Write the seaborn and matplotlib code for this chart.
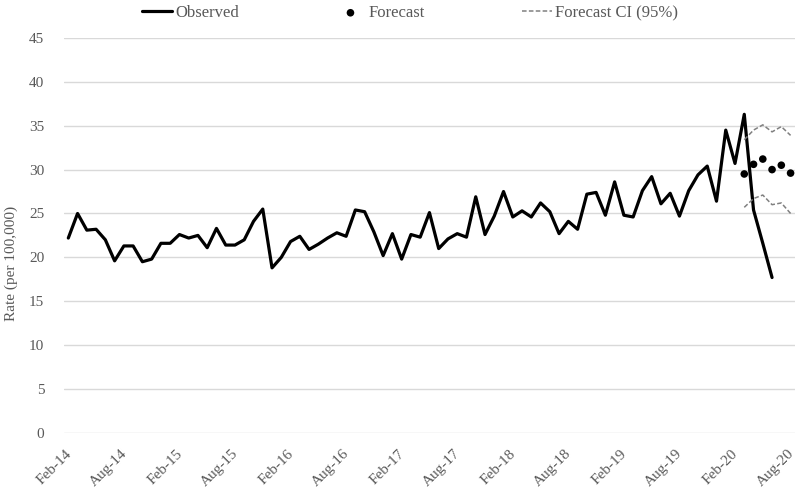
import numpy as np
import pandas as pd
import seaborn as sns
import matplotlib.pyplot as plt

months = pd.date_range('2014-02-01', '2020-08-01', freq='MS')

observed = [22.2, 25.0, 23.1, 23.2, 22.0, 19.6, 21.3, 21.3, 19.5, 19.8,
            21.6, 21.6, 22.6, 22.2, 22.5, 21.1, 23.3, 21.4, 21.4, 22.0,
            24.1, 25.5, 18.8, 20.0, 21.8, 22.4, 20.9, 21.5, 22.2, 22.8,
            22.4, 25.4, 25.2, 22.9, 20.2, 22.7, 19.8, 22.6, 22.3, 25.1,
            21.0, 22.1, 22.7, 22.3, 26.9, 22.6, 24.7, 27.5, 24.6, 25.3,
            24.6, 26.2, 25.2, 22.7, 24.1, 23.2, 27.2, 27.4, 24.8, 28.6,
            24.8, 24.6, 27.6, 29.2, 26.1, 27.3, 24.7, 27.6, 29.4, 30.4,
            26.4, 34.5, 30.7, 36.3, 25.4, 21.6, 17.7]

forecast_months = ['Mar-20', 'Apr-20', 'May-20', 'Jun-20', 'Jul-20', 'Aug-20']
forecast = [29.5, 30.6, 31.2, 30.0, 30.5, 29.6]
ci_upper = [33.4, 34.5, 35.1, 34.3, 34.9, 33.9]
ci_lower = [25.7, 26.7, 27.1, 26.0, 26.2, 25.0]

tick_labels = ['Feb-14', 'Aug-14', 'Feb-15', 'Aug-15', 'Feb-16', 'Aug-16', 'Feb-17',
               'Aug-17', 'Feb-18', 'Aug-18', 'Feb-19', 'Aug-19', 'Feb-20', 'Aug-20']

labels = [m.strftime('%b-%y') for m in months]
pos = {lab: i for i, lab in enumerate(labels)}

obs_df = pd.DataFrame({'x': np.arange(len(observed)), 'rate': observed})
fc_df = pd.DataFrame({'x': [pos[m] for m in forecast_months], 'rate': forecast,
                      'upper': ci_upper, 'lower': ci_lower})

sns.set_style('white')
plt.rcParams['font.family'] = ['Liberation Serif', 'DejaVu Serif']
grey = '#595959'

fig = plt.figure(figsize=(7.96, 4.93), dpi=100)
ax = fig.add_axes([0.080, 0.122, 0.919, 0.801])

ax.yaxis.grid(True, color='#d9d9d9', linewidth=1)
ax.set_axisbelow(True)

sns.lineplot(data=obs_df, x='x', y='rate', ax=ax, color='black', linewidth=2.3,
             label='Observed')
sns.scatterplot(data=fc_df, x='x', y='rate', ax=ax, color='black', s=30,
                edgecolor='none', label='Forecast')
sns.lineplot(data=fc_df, x='x', y='upper', ax=ax, color='#808080', linewidth=1.1,
             linestyle=(0, (3, 1.5)), label='Forecast CI (95%)')
sns.lineplot(data=fc_df, x='x', y='lower', ax=ax, color='#808080', linewidth=1.1,
             linestyle=(0, (3, 1.5)))

ax.set_xlim(-0.5, len(labels) - 0.5)
ax.set_ylim(0, 45)
ax.set_yticks(range(0, 46, 5))
ax.set_xticks([pos[t] for t in tick_labels])
ax.set_xticklabels(tick_labels, rotation=45, ha='right', va='center_baseline',
                   rotation_mode='anchor')
ax.tick_params(axis='both', length=0, labelcolor=grey)
ax.tick_params(axis='y', pad=14, labelsize=11)
ax.tick_params(axis='x', pad=13, labelsize=11)
ax.set_xlabel('')
ax.set_ylabel('Rate (per 100,000)', fontsize=11, color=grey)
ax.yaxis.set_label_coords(-0.063, 0.43)
for s in ax.spines.values():
    s.set_visible(False)

handles, leg_labels = ax.get_legend_handles_labels()
ax.get_legend().remove()
fig.legend(handles, leg_labels, loc='upper center', bbox_to_anchor=(0.515, 1.02),
           ncol=3, frameon=False, fontsize=12, columnspacing=5.8, handlelength=1.8,
           handletextpad=0.2, labelcolor=grey)

fig.savefig('out.png', dpi=100)
